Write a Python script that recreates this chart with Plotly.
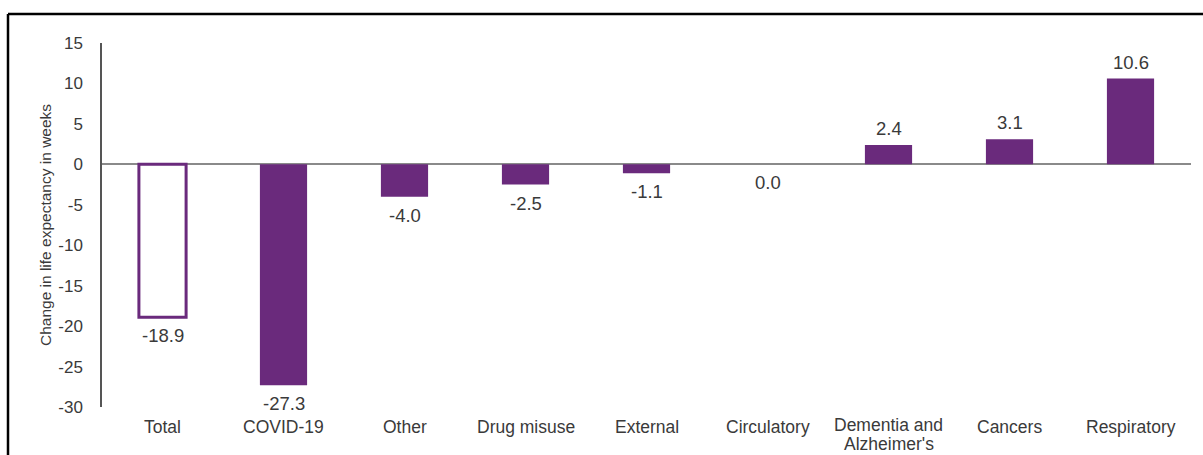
import plotly.graph_objects as go

# Change in life expectancy (weeks) by cause of death
categories = ["Total", "COVID-19", "Other", "Drug misuse", "External",
              "Circulatory", "Dementia and<br>Alzheimer's", "Cancers", "Respiratory"]
values = [-18.9, -27.3, -4.0, -2.5, -1.1, 0.0, 2.4, 3.1, 10.6]
y_ticks = [15, 10, 5, 0, -5, -10, -15, -20, -25, -30]

PURPLE = "#6a2a7c"
TEXT = "#3a3a3a"
FONT = "Liberation Sans, Arial, sans-serif"

W, H = 1203, 455
ML, MR, MT, MB = 102, 12, 43, 48

# Total is drawn as an outlined bar, the components as solid bars
fills = ["white" if c == "Total" else PURPLE for c in categories]

fig = go.Figure(go.Bar(
    x=categories,
    y=values,
    width=0.39,
    marker=dict(color=fills, line=dict(color=PURPLE, width=[3] + [0] * (len(values) - 1))),
    hoverinfo="skip",
))

# Value labels: above positive bars, below zero/negative bars
for c, v in zip(categories, values):
    fig.add_annotation(
        x=c, y=v, text=f"{v:.1f}", showarrow=False,
        yanchor="bottom" if v > 0 else "top",
        yshift=4 if v > 0 else -6,
        font=dict(family=FONT, size=18.5, color=TEXT),
    )

# Category labels under the axis, with tight line spacing for wrapped names
for c in categories:
    lines = c.split("<br>")
    top = -20 if len(lines) == 1 else -18
    for i, line in enumerate(lines):
        fig.add_annotation(
            x=c, xref="x", y=0, yref="paper", text=line, showarrow=False,
            yanchor="middle", yshift=top - 18.5 * i, borderpad=0,
            font=dict(family=FONT, size=17.5, color=TEXT),
        )

# Outer frame around the chart (top and left edges visible)
pw, ph = W - ML - MR, H - MT - MB
fx = (8 - ML) / pw
fy = 1 + (MT - 14) / ph
fig.add_shape(type="line", xref="paper", yref="paper", x0=fx, x1=1.2, y0=fy, y1=fy,
              line=dict(color="black", width=2.5))
fig.add_shape(type="line", xref="paper", yref="paper", x0=fx, x1=fx, y0=fy, y1=-0.3,
              line=dict(color="black", width=2.5))

fig.update_layout(
    width=W, height=H,
    margin=dict(l=ML, r=MR, t=MT, b=MB),
    paper_bgcolor="white", plot_bgcolor="white",
    showlegend=False,
    font=dict(family=FONT, color=TEXT),
)
fig.update_xaxes(
    automargin=False, showticklabels=False,
    showgrid=False, showline=False, zeroline=False, ticks="",
)
fig.update_yaxes(
    automargin=False,
    range=[-30, 15], tickvals=y_ticks, ticktext=[str(t) for t in y_ticks],
    showgrid=False, showline=True, linecolor="#555555", linewidth=1.5,
    zeroline=True, zerolinecolor="#8a8a8a", zerolinewidth=2,
    ticks="", ticklabelstandoff=14,
    tickfont=dict(family=FONT, size=17, color=TEXT),
    title=dict(text="Change in life expectancy in weeks", standoff=3,
               font=dict(family=FONT, size=15.5, color=TEXT)),
)

fig.write_html("out.html")
